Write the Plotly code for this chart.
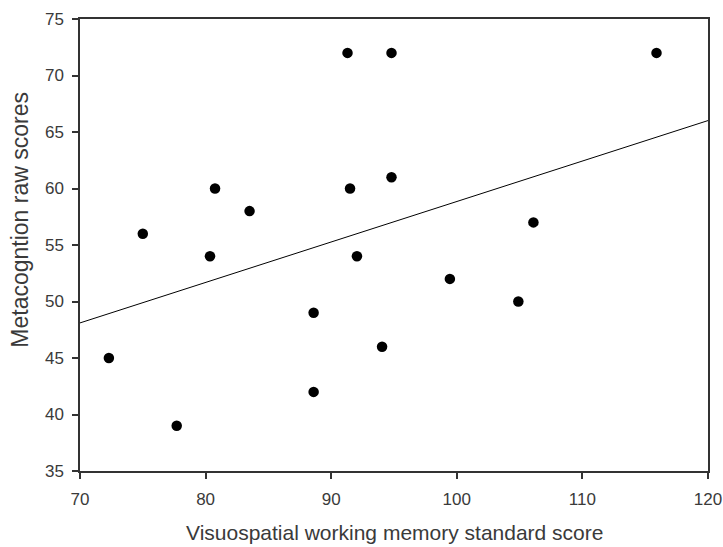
import numpy as np
import plotly.graph_objects as go

vs_wm = [72.3, 75.0, 77.7, 80.35, 80.75, 83.5, 88.6, 88.6, 91.3, 91.5, 92.05,
         94.05, 94.8, 94.8, 99.45, 104.9, 106.1, 115.9]
metacog = [45, 56, 39, 54, 60, 58, 42, 49, 72, 60, 54, 46, 72, 61, 52, 50, 57, 72]

x_ticks = [70, 80, 90, 100, 110, 120]
y_ticks = [35, 40, 45, 50, 55, 60, 65, 70, 75]

x_title = "Visuospatial working memory standard score"
y_title = "Metacogntion raw scores"

slope, intercept = np.polyfit(vs_wm, metacog, 1)
fit_x = np.array([70, 120])
fit_y = slope * fit_x + intercept

fig = go.Figure()
fig.add_trace(go.Scatter(x=fit_x, y=fit_y, mode="lines",
                         line=dict(color="black", width=1), showlegend=False))
fig.add_trace(go.Scatter(x=vs_wm, y=metacog, mode="markers",
                         marker=dict(color="black", size=10.5), showlegend=False))

font_family = "Liberation Sans, Arial, sans-serif"
text_color = "#3a3a3a"
axis_common = dict(ticks="outside", ticklen=6, tickwidth=1.5, tickcolor="#333",
                   showline=True, linecolor="#333", linewidth=1.5, mirror=True,
                   showgrid=False, zeroline=False, automargin=False,
                   tickfont=dict(size=17, color=text_color))
fig.update_layout(
    width=723, height=547,
    margin=dict(l=80, r=15, t=19, b=76),
    paper_bgcolor="white", plot_bgcolor="white",
    font=dict(family=font_family, color=text_color, size=17),
    xaxis=dict(range=[70, 120], tickvals=x_ticks, ticklabelstandoff=6, **axis_common),
    yaxis=dict(range=[35, 75], tickvals=y_ticks, ticklabelstandoff=5, **axis_common),
    annotations=[
        dict(text=x_title, xref="paper", yref="paper", x=0.5, y=-0.136,
             xanchor="center", yanchor="middle", showarrow=False,
             font=dict(size=21, color=text_color)),
        dict(text=y_title, xref="paper", yref="paper", x=-0.0955, y=0.556,
             xanchor="center", yanchor="middle", textangle=-90, showarrow=False,
             font=dict(size=23, color=text_color)),
    ],
)
fig.write_html("out.html")
